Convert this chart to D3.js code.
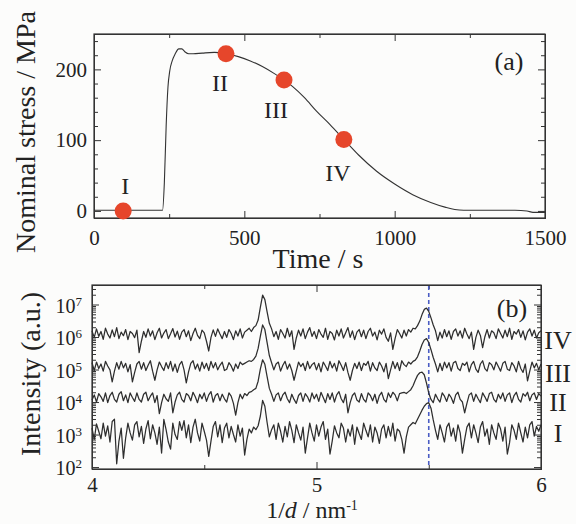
<!DOCTYPE html>
<html>
<head>
<meta charset="utf-8">
<script src="https://cdn.jsdelivr.net/npm/d3@7"></script>
<style>
  body { margin: 0; background: #fcfcfb; }
  svg { display: block; font-family: "Liberation Serif", "Times New Roman", serif; }
  .tick line { stroke: #333; }
  .domain { stroke: #333; }
</style>
</head>
<body>
<div id="chart"></div>
<script>
// ---- panel (a): stress vs time ----
var timeS = [0, 100, 200, 228, 234, 240, 246, 252, 260, 270, 282, 292, 302, 315, 330, 360, 400, 440, 480, 520, 560, 600, 632, 660, 700, 740, 785, 831, 880, 940, 1000, 1060, 1120, 1170, 1200, 1230, 1300, 1400, 1440, 1460, 1500]
var stress = [1, 1, 1, 1, 40, 120, 175, 198, 212, 222, 229, 229, 225, 222, 222, 223, 224, 222, 218, 212, 204, 194, 185, 176, 160, 141, 122, 101, 79, 56, 38, 23, 12, 5, 2, 1, 1, 1, 0, -2, -2]
var markTime = [97, 439, 632, 831]
var markStress = [0, 222, 185, 101]
var markNames = ["I", "II", "III", "IV"]

// ---- panel (b): intensity vs 1/d, offsets in 1/100 decade on a 0.01 nm^-1 grid from 4 to 6 ----
var dStart = 4, dStep = 0.01
var traceNames = ["I", "II", "III", "IV"]
var traceBase = [3.05, 4.12, 5.07, 6.07]   // log10 baseline of each trace
var labelLog = [3.05, 4.0, 4.89, 5.9]      // log10 height of the I..IV labels on the right

var offI = [15,-20,28,5,-18,30,-10,22,-28,35,42,-95,-25,15,-78,-15,30,0,-22,25,
  35,-12,20,-32,12,38,-18,25,0,-35,18,-62,42,10,-28,-50,30,-5,-20,35,
  8,38,-15,25,-30,18,42,0,-25,30,5,-22,-72,-25,20,35,-12,25,-30,15,
  30,-15,20,-5,-28,25,-10,15,-68,-20,12,0,18,10,22,52,100,82,32,-12,
  10,25,-20,30,5,-28,20,-12,35,8,-30,25,0,-22,18,-62,-15,30,0,-25,
  25,-10,18,35,-20,12,-65,-25,22,0,-15,30,15,-28,12,-10,25,-35,18,-2,
  -20,30,8,-12,25,-28,18,0,-32,12,25,-15,20,-10,30,-25,12,5,-20,-62,
  -12,18,25,32,28,42,56,70,82,90,93,76,40,8,-20,25,0,-28,18,30,
  -10,15,-25,25,0,-62,-20,18,30,-15,25,0,-30,18,35,-10,12,-35,25,0,
  -20,30,12,-25,18,-65,-30,25,8,-20,30,0,-28,18,-15,25,35,-10,20,5,25]
var offII = [-6,10,-12,14,4,-10,16,-14,8,18,-4,-12,12,20,-8,10,-14,16,2,-10,
  16,-4,-12,12,18,-8,6,16,-14,8,-48,-14,12,-2,-10,16,-45,-12,10,18,
  -4,-12,14,8,-8,18,4,-14,12,-2,16,-10,10,20,-12,8,14,-8,12,-2,
  -12,16,6,-16,-52,-14,12,-2,14,8,18,20,26,30,52,90,118,104,66,30,
  12,-10,10,16,-8,10,18,-2,-14,12,-4,-16,8,16,-10,14,4,-12,16,-2,
  12,-10,18,2,-14,14,-4,16,-12,10,20,-2,-14,12,-45,-14,8,16,-6,-12,
  14,-4,-12,16,8,-8,12,-16,8,18,-4,-12,16,2,18,10,-8,14,16,18,
  14,20,26,38,55,70,78,80,72,46,16,-4,-14,12,-2,-12,16,6,-10,12,
  2,-16,10,18,-4,-12,-45,-16,10,16,-10,12,-2,-14,16,4,-10,14,18,-4,
  -12,12,-2,16,-10,10,16,-14,8,18,-4,-12,14,6,18,-8,10,16,-4,14,6]
var offIII = [14,-10,16,-4,10,-12,18,4,-8,-45,-12,14,-6,18,-2,12,-14,8,-45,-16,
  10,18,-6,14,-10,6,20,-12,-40,-8,16,2,-10,14,-4,18,-12,10,-16,8,
  18,-8,-48,-14,12,20,-6,10,-12,16,-4,12,-10,18,-2,14,-8,6,16,-10,
  -6,14,4,-12,10,-4,16,8,12,16,20,18,24,34,58,96,130,116,76,36,
  14,-8,10,16,-12,6,18,-6,10,-10,-40,-12,16,2,12,-10,18,-4,8,14,
  -8,12,-14,16,4,-10,18,-2,12,-12,20,6,-10,14,-16,-40,-10,12,-4,16,
  -10,12,6,18,-12,14,-2,-10,16,4,-14,12,-35,-8,18,-4,14,-10,20,8,
  2,16,10,18,22,32,50,70,84,88,76,54,30,10,-14,12,-10,16,-2,14,
  -12,14,18,-4,-10,12,6,16,-14,8,18,-6,-16,10,20,-4,-12,14,8,-8,
  16,2,-12,12,18,-6,-10,14,4,-14,18,-4,-16,10,-42,-12,16,-2,12,-8,10]
var offIV = [12,-8,18,-5,10,-14,20,2,-10,15,-6,22,-12,8,-3,16,-15,10,4,-9,
  14,-55,-20,10,-8,18,-4,12,-15,6,20,-10,5,16,-12,3,19,-7,11,-14,
  8,16,-6,12,-18,4,20,-2,-12,14,6,-20,-50,-8,15,-5,18,2,-12,10,
  -8,16,4,-15,12,-4,18,-10,8,14,20,10,22,28,45,85,122,108,70,35,
  18,-6,10,-14,16,4,-10,20,-6,12,-45,-10,14,-4,18,-12,8,22,-5,10,
  -12,16,2,-8,20,-14,10,4,-16,14,-4,18,-10,6,22,-8,12,-15,8,16,
  -6,14,-12,10,20,-4,8,-16,14,2,18,-8,-20,6,-45,-12,16,4,-10,14,
  -4,16,8,20,18,28,42,62,78,82,72,52,30,12,-18,8,-10,16,-6,12,
  -14,10,18,-4,12,-10,20,2,-12,8,-45,-8,14,-2,-40,-6,16,-10,12,6,
  -12,18,4,-10,14,-6,20,-14,10,2,16,-8,12,-16,8,18,-4,14,-10,6,12]
var traceOffsets = [offI, offII, offIII, offIV]
var peakLine = 5.5

var W = 576, H = 524
var svg = d3.select("#chart").append("svg").attr("width", W).attr("height", H)

var ink = "#333"
var lblFont = 21

// ===== panel (a) =====
var xA = d3.scaleLinear().domain([0, 1500]).range([94, 545])
var yA = d3.scaleLinear().domain([-10, 250]).range([218, 34])

var gA = svg.append("g")
gA.append("rect").attr("x", 94).attr("y", 34).attr("width", 451).attr("height", 184)
  .attr("fill", "none").attr("stroke", ink).attr("stroke-width", 1.2)

function noLbl(a) { return a.tickFormat("") }

gA.append("g").attr("transform", "translate(0,218)")
  .call(d3.axisBottom(xA).tickValues([0, 500, 1000, 1500]).tickSize(-7).tickPadding(12).tickFormat(d3.format("d")))
gA.append("g").attr("transform", "translate(0,218)")
  .call(noLbl(d3.axisBottom(xA).tickValues([250, 750, 1250]).tickSize(-4)))
gA.append("g").attr("transform", "translate(0,34)")
  .call(noLbl(d3.axisTop(xA).tickValues([0, 500, 1000, 1500]).tickSize(-7)))
gA.append("g").attr("transform", "translate(0,34)")
  .call(noLbl(d3.axisTop(xA).tickValues([250, 750, 1250]).tickSize(-4)))
gA.append("g").attr("transform", "translate(94,0)")
  .call(d3.axisLeft(yA).tickValues([0, 100, 200]).tickSize(-7).tickPadding(7))
gA.append("g").attr("transform", "translate(94,0)")
  .call(noLbl(d3.axisLeft(yA).tickValues([20, 40, 60, 80, 120, 140, 160, 180, 220, 240]).tickSize(-4)))
gA.append("g").attr("transform", "translate(545,0)")
  .call(noLbl(d3.axisRight(yA).tickValues([0, 100, 200]).tickSize(-7)))
gA.append("g").attr("transform", "translate(545,0)")
  .call(noLbl(d3.axisRight(yA).tickValues([20, 40, 60, 80, 120, 140, 160, 180, 220, 240]).tickSize(-4)))

var stressData = timeS.map(function(t, i) { return {t: t, s: stress[i]} })
gA.append("path").datum(stressData)
  .attr("fill", "none").attr("stroke", ink).attr("stroke-width", 1.1)
  .attr("d", d3.line().x(function(d) { return xA(d.t) }).y(function(d) { return yA(d.s) }).curve(d3.curveMonotoneX))

gA.selectAll("circle.mark").data(markTime).enter().append("circle")
  .attr("class", "mark")
  .attr("cx", function(d) { return xA(d) })
  .attr("cy", function(d, i) { return yA(markStress[i]) })
  .attr("r", 8.5).attr("fill", "#e6462b")

// roman labels near the markers
var markLblDx = [2, -6, -8, -6]
var markLblDy = [-25, 29, 30, 33]
gA.selectAll("text.mlbl").data(markNames).enter().append("text")
  .attr("class", "mlbl")
  .attr("x", function(d, i) { return xA(markTime[i]) + markLblDx[i] })
  .attr("y", function(d, i) { return yA(markStress[i]) + markLblDy[i] })
  .attr("dy", "0.35em").attr("text-anchor", "middle")
  .attr("font-size", 24).attr("fill", "#222").text(function(d) { return d })

gA.append("text").attr("x", 509).attr("y", 61).attr("dy", "0.35em").attr("text-anchor", "middle")
  .attr("font-size", 26).attr("fill", "#222").text("(a)")
gA.append("text").attr("transform", "translate(35,132) rotate(-90)").attr("text-anchor", "middle")
  .attr("font-size", 28).attr("fill", "#222").text("Nominal stress / MPa")
gA.append("text").attr("x", 318).attr("y", 268).attr("text-anchor", "middle")
  .attr("font-size", 28).attr("fill", "#222").text("Time / s")

// ===== panel (b) =====
var xB = d3.scaleLinear().domain([4, 6]).range([92, 541])
var yB = d3.scaleLog().domain([Math.pow(10, 1.94), Math.pow(10, 7.6)]).range([469, 285])

var gB = svg.append("g")
gB.append("rect").attr("x", 92).attr("y", 285).attr("width", 449).attr("height", 184)
  .attr("fill", "none").attr("stroke", ink).attr("stroke-width", 1.2)

gB.append("g").attr("transform", "translate(0,469)")
  .call(d3.axisBottom(xB).tickValues([4, 5, 6]).tickSize(-7).tickPadding(8).tickFormat(d3.format("d")))
gB.append("g").attr("transform", "translate(0,469)")
  .call(noLbl(d3.axisBottom(xB).tickValues([4.5, 5.5]).tickSize(-4)))
gB.append("g").attr("transform", "translate(0,285)")
  .call(noLbl(d3.axisTop(xB).tickValues([4, 5, 6]).tickSize(-7)))
gB.append("g").attr("transform", "translate(0,285)")
  .call(noLbl(d3.axisTop(xB).tickValues([4.5, 5.5]).tickSize(-4)))

var majorLog = [2, 3, 4, 5, 6, 7]
var minorLog = []
majorLog.forEach(function(e) {
  for (var m = 2; m <= 9; m++) {
    var v = m * Math.pow(10, e)
    if (v < yB.domain()[1]) minorLog.push(v)
  }
})
var majorVals = majorLog.map(function(e) { return Math.pow(10, e) })
gB.append("g").attr("transform", "translate(92,0)")
  .call(noLbl(d3.axisLeft(yB).tickValues(majorVals).tickSize(-7)))
gB.append("g").attr("transform", "translate(92,0)")
  .call(noLbl(d3.axisLeft(yB).tickValues(minorLog).tickSize(-4)))
gB.append("g").attr("transform", "translate(541,0)")
  .call(noLbl(d3.axisRight(yB).tickValues(majorVals).tickSize(-7)))
gB.append("g").attr("transform", "translate(541,0)")
  .call(noLbl(d3.axisRight(yB).tickValues(minorLog).tickSize(-4)))

// log tick labels 10^n
var yl = gB.selectAll("text.ylog").data(majorLog).enter().append("text")
  .attr("class", "ylog")
  .attr("x", 82).attr("y", function(d) { return yB(Math.pow(10, d)) })
  .attr("dy", "0.42em").attr("text-anchor", "end")
  .attr("font-size", 20).attr("fill", "#222")
yl.append("tspan").text("10")
yl.append("tspan").attr("dy", "-0.55em").attr("font-size", 13).text(function(d) { return d })

gB.selectAll(".tick text").attr("font-size", lblFont).attr("font-family", "Liberation Serif, serif").attr("fill", "#222")
gA.selectAll(".tick text").attr("font-size", lblFont).attr("font-family", "Liberation Serif, serif").attr("fill", "#222")

// dashed reference line
gB.append("line").attr("x1", xB(peakLine)).attr("x2", xB(peakLine))
  .attr("y1", 286).attr("y2", 468)
  .attr("stroke", "#4a5cc4").attr("stroke-width", 1.6).attr("stroke-dasharray", "4,3")

var lineB = d3.line()
  .x(function(d, i) { return xB(dStart + i * dStep) })
  .y(function(d) { return yB(d) })

traceOffsets.forEach(function(offs, k) {
  var vals = offs.map(function(o) { return Math.pow(10, traceBase[k] + o / 100) })
  gB.append("path").datum(vals)
    .attr("fill", "none").attr("stroke", "#2e2e2e").attr("stroke-width", 1.25)
    .attr("stroke-linejoin", "round").attr("d", lineB)
})

gB.selectAll("text.tname").data(traceNames).enter().append("text")
  .attr("class", "tname")
  .attr("x", 558).attr("y", function(d, i) { return yB(Math.pow(10, labelLog[i])) })
  .attr("dy", "0.35em").attr("text-anchor", "middle")
  .attr("font-size", 26).attr("fill", "#222").text(function(d) { return d })

gB.append("text").attr("x", 512).attr("y", 308).attr("dy", "0.35em").attr("text-anchor", "middle")
  .attr("font-size", 26).attr("fill", "#222").text("(b)")

gB.append("text").attr("transform", "translate(40,374) rotate(-90)").attr("text-anchor", "middle")
  .attr("font-size", 28).attr("fill", "#222").text("Intensity (a.u.)")

var xl = gB.append("text").attr("x", 312).attr("y", 518).attr("text-anchor", "middle")
  .attr("font-size", 24).attr("fill", "#222")
xl.append("tspan").text("1/")
xl.append("tspan").attr("font-style", "italic").text("d")
xl.append("tspan").text(" / nm")
xl.append("tspan").attr("dy", "-0.6em").attr("font-size", 14).text("-1")
</script>
</body>
</html>
